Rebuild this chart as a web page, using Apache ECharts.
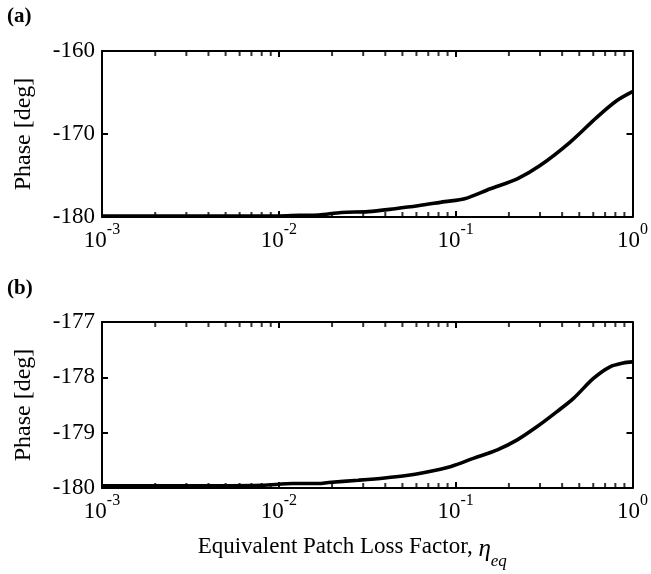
<!DOCTYPE html>
<html>
<head>
<meta charset="utf-8">
<script src="https://cdn.jsdelivr.net/npm/echarts@6/dist/echarts.min.js"></script>
<style>html,body{margin:0;padding:0;background:#fff}#c{width:651px;height:574px}</style>
</head>
<body>
<div id="c"></div>
<script>
// ---- data ----
const etaA = [0.001, 0.002, 0.005, 0.01, 0.013, 0.0168, 0.0226, 0.032, 0.0454, 0.0612, 0.0867, 0.1124, 0.157, 0.223, 0.30, 0.443, 0.628, 0.813, 1.0];
const phaseA = [-179.9, -179.9, -179.9, -179.88, -179.8, -179.75, -179.45, -179.35, -179.0, -178.65, -178.15, -177.8, -176.6, -175.4, -173.8, -171.0, -168.0, -166.0, -164.9];
const etaB = [0.001, 0.003, 0.008, 0.012, 0.0168, 0.0191, 0.0281, 0.0397, 0.0515, 0.0667, 0.0942, 0.127, 0.172, 0.223, 0.289, 0.374, 0.464, 0.601, 0.746, 0.887, 1.0];
const phaseB = [-179.96, -179.96, -179.95, -179.92, -179.92, -179.90, -179.86, -179.82, -179.78, -179.72, -179.61, -179.46, -179.31, -179.13, -178.89, -178.62, -178.38, -178.02, -177.81, -177.74, -177.72];
const yRangeA = [-180, -160];
const yRangeB = [-180, -177];
const yStepA = 10;
const yStepB = 1;
const minorTicks = [];
[0.001, 0.01, 0.1].forEach(d => { for (let k = 2; k <= 9; k++) minorTicks.push(+(k * d).toPrecision(3)); });
const panelLabels = ['(a)', '(b)'];
const xTitle = 'Equivalent Patch Loss Factor, ';
const yTitle = 'Phase [deg]';

const FONT = 'Liberation Serif';
const chart = echarts.init(document.getElementById('c'), null, {renderer: 'canvas'});

function supLabel(v) {
  const e = Math.round(Math.log10(v));
  return '{b|10}{s|' + e + '}';
}
const richSup = {
  b: {fontFamily: FONT, fontSize: 23, color: '#000', lineHeight: 30, verticalAlign: 'bottom'},
  s: {fontFamily: FONT, fontSize: 16, color: '#000', lineHeight: 30, verticalAlign: 'bottom', padding: [0, 0, 14, 0]}
};
const lineStyleAx = {color: '#000', width: 2};

const grids = [
  {left: 102, top: 51, width: 534, height: 166},
  {left: 102, top: 322, width: 534, height: 166}
];
const xAxes = [], yAxes = [], series = [];
const ranges = [yRangeA, yRangeB], steps = [yStepA, yStepB];
const datas = [[etaA, phaseA], [etaB, phaseB]];
for (let g = 0; g < 2; g++) {
  const base = {
    type: 'log', logBase: 10, min: 0.001, max: 1, gridIndex: g,
    axisLine: {show: true, onZero: false, lineStyle: lineStyleAx},
    axisTick: {show: true, inside: true, length: 6, lineStyle: {color: '#000', width: 2}},
    splitLine: {show: false}, minorTick: {show: false}
  };
  xAxes.push(Object.assign({}, base, {
    position: 'bottom',
    axisLabel: {show: true, margin: 5, formatter: supLabel, rich: richSup},
    name: g === 1 ? xTitle + '{i|η}{sub|eq}' : '',
    nameLocation: 'middle', nameGap: 44,
    nameTextStyle: {fontFamily: FONT, fontSize: 23, color: '#000', padding: [0, 30, 0, 0],
      rich: {
        i: {fontFamily: FONT, fontSize: 25, fontStyle: 'italic', color: '#000', verticalAlign: 'bottom', lineHeight: 30},
        sub: {fontFamily: FONT, fontSize: 17, fontStyle: 'italic', color: '#000', verticalAlign: 'bottom', lineHeight: 30, padding: [0, 0, -8, 0]}
      }}
  }));
  xAxes.push(Object.assign({}, base, {position: 'top', axisLabel: {show: false}}));
  const ybase = {
    type: 'value', min: ranges[g][0], max: ranges[g][1], interval: steps[g], gridIndex: g,
    axisLine: {show: true, onZero: false, lineStyle: lineStyleAx},
    axisTick: {show: true, inside: true, length: 6, lineStyle: {color: '#000', width: 2}},
    splitLine: {show: false}
  };
  yAxes.push(Object.assign({}, ybase, {
    position: 'left',
    axisLabel: {show: true, margin: 7, fontFamily: FONT, fontSize: 23, color: '#000'},
    name: yTitle, nameLocation: 'middle', nameGap: 66,
    nameTextStyle: {fontFamily: FONT, fontSize: 24, color: '#000'}
  }));
  yAxes.push(Object.assign({}, ybase, {position: 'right', axisLabel: {show: false}}));

  const [xs, ys] = datas[g];
  series.push({
    type: 'line', xAxisIndex: 2 * g, yAxisIndex: 2 * g,
    data: xs.map((x, i) => [x, ys[i]]),
    showSymbol: false, symbol: 'none', smooth: 0.3,
    lineStyle: {color: '#000', width: 3.6}, clip: false, z: 3
  });
  // minor ticks along bottom and top edges
  series.push({
    type: 'scatter', xAxisIndex: 2 * g, yAxisIndex: 2 * g,
    data: minorTicks.map(v => [v, ranges[g][0]]),
    symbol: 'rect', symbolSize: [2, 5], symbolOffset: [0, -2.5],
    itemStyle: {color: '#000'}, silent: true, clip: false, z: 4
  });
  series.push({
    type: 'scatter', xAxisIndex: 2 * g, yAxisIndex: 2 * g,
    data: minorTicks.map(v => [v, ranges[g][1]]),
    symbol: 'rect', symbolSize: [2, 5], symbolOffset: [0, 2.5],
    itemStyle: {color: '#000'}, silent: true, clip: false, z: 4
  });
}

chart.setOption({
  animation: false,
  backgroundColor: '#fff',
  grid: grids,
  xAxis: xAxes,
  yAxis: yAxes,
  series: series,
  graphic: [
    {type: 'text', left: 7, top: 6, style: {text: panelLabels[0], fontFamily: FONT, fontSize: 21, fontWeight: 'bold', fill: '#000'}},
    {type: 'text', left: 7, top: 278, style: {text: panelLabels[1], fontFamily: FONT, fontSize: 21, fontWeight: 'bold', fill: '#000'}}
  ]
});
</script>
</body>
</html>
